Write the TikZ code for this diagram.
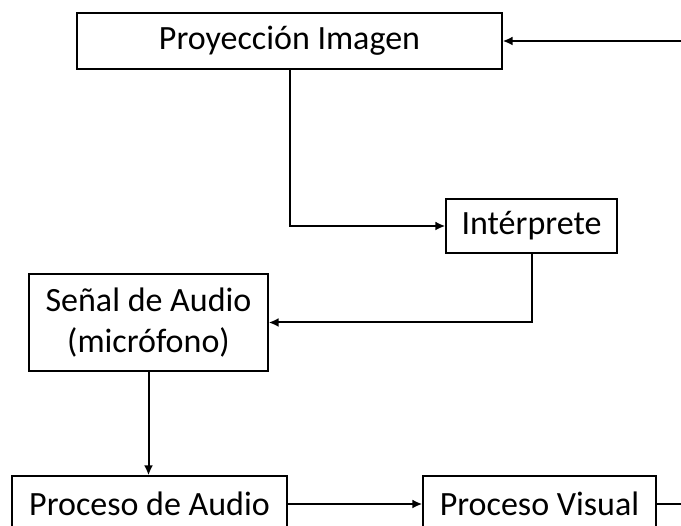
\documentclass[tikz,border=0pt]{standalone}
\usepackage{fontspec}
\setmainfont{Carlito}
\usepackage{tikz}
\usetikzlibrary{arrows.meta,positioning,calc}

\begin{document}
\begin{tikzpicture}[x=1pt, y=-1pt,
    caja/.style={draw, line width=1.3pt, inner sep=0pt, align=center,
      font=\fontsize{34}{40.5}\selectfont},
    flecha/.style={line width=2pt, -{Latex[length=10pt, width=9pt]}},
    linea/.style={line width=2pt}]
  \useasboundingbox (0,0) rectangle (681,526);
  \clip (0,0) rectangle (681,526);
  % cajas
  \node[caja, minimum width=425, minimum height=56] (proy) at (289.5,41) {Proyección Imagen};
  \node[caja, minimum width=171, minimum height=54] (interp) at (531.5,226) {Intérprete};
  \node[caja, minimum width=239, minimum height=97] (senal) at (148.5,322.5) {Señal de Audio\\(micrófono)};
  \node[caja, minimum width=275, minimum height=56] (paudio) at (149.5,504) {Proceso de Audio};
  \node[caja, minimum width=233, minimum height=56] (pvisual) at (539.5,504) {Proceso Visual};
  \coordinate (entrada) at (681,41);
  \coordinate (salida) at (681,504);
  % conexiones
  \draw[flecha] (entrada) -- (proy.east);
  \draw[flecha] (proy.south) |- (interp.west);
  \draw[flecha] (interp.south) |- (senal.east);
  \draw[flecha] (senal.south) -- (senal.south |- paudio.north);
  \draw[flecha] (paudio.east) -- (pvisual.west);
  \draw[linea] (pvisual.east) -- (salida);
\end{tikzpicture}
\end{document}
